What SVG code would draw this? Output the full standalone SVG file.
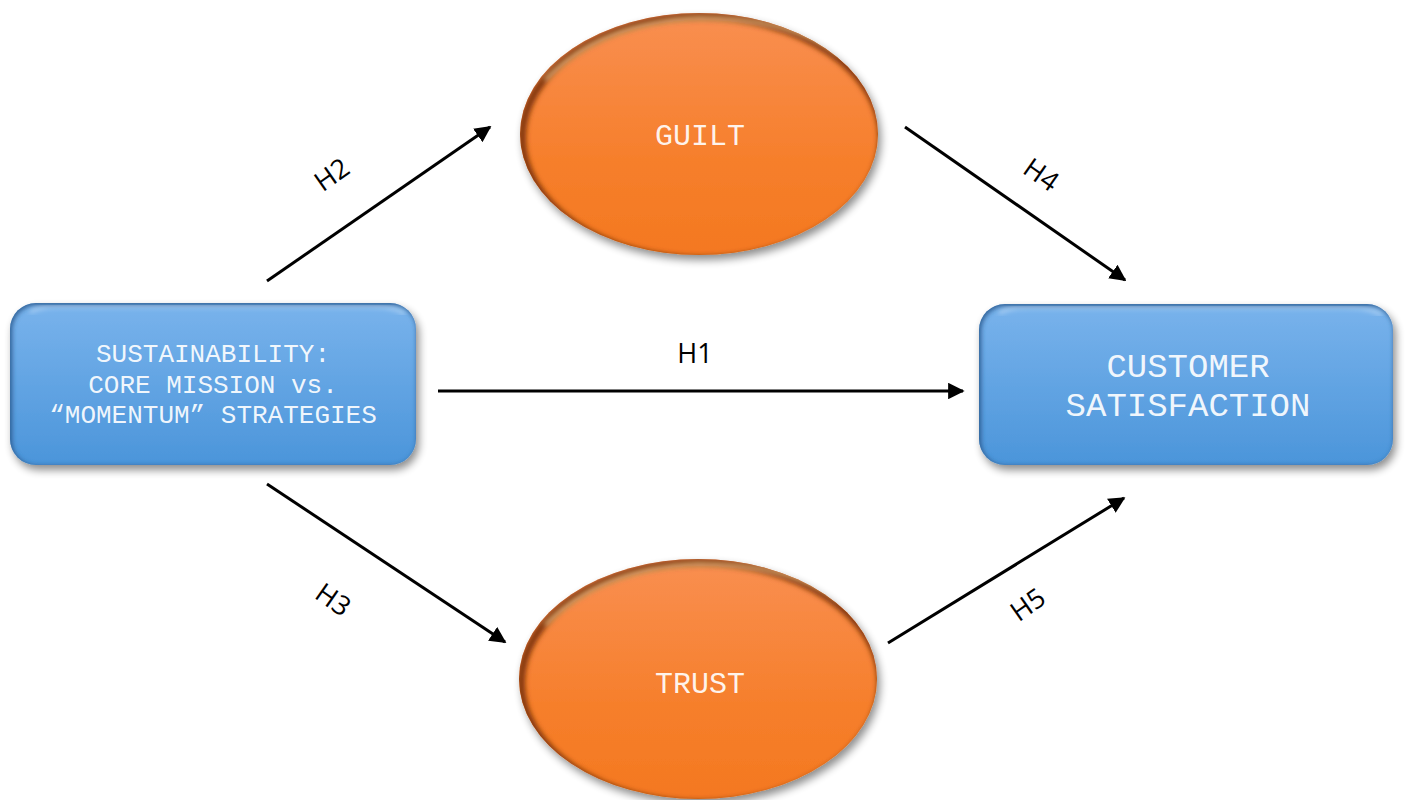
<svg xmlns="http://www.w3.org/2000/svg" width="1405" height="800" viewBox="0 0 1405 800">
  <defs>
    <linearGradient id="blueFill" x1="0" y1="0" x2="0" y2="1">
      <stop offset="0" stop-color="#79b3ec"/>
      <stop offset="1" stop-color="#4b95da"/>
    </linearGradient>
    <linearGradient id="orangeFill" x1="0" y1="0" x2="0" y2="1">
      <stop offset="0" stop-color="#f98f51"/>
      <stop offset="0.6" stop-color="#f67f2c"/>
      <stop offset="1" stop-color="#f47820"/>
    </linearGradient>
    <filter id="shadow" x="-10%" y="-10%" width="125%" height="130%">
      <feGaussianBlur in="SourceAlpha" stdDeviation="4"/>
      <feOffset dx="3" dy="5" result="b"/>
      <feComponentTransfer><feFuncA type="linear" slope="0.45"/></feComponentTransfer>
      <feMerge><feMergeNode/><feMergeNode in="SourceGraphic"/></feMerge>
    </filter>
    <filter id="soft" x="-10%" y="-10%" width="120%" height="120%">
      <feGaussianBlur stdDeviation="2.5"/>
    </filter>
    <clipPath id="clipLeft"><rect x="10" y="303" width="406" height="162" rx="26"/></clipPath>
    <clipPath id="clipRight"><rect x="979" y="304" width="414" height="161" rx="26"/></clipPath>
    <clipPath id="clipGuilt"><ellipse cx="699" cy="134" rx="179" ry="121"/></clipPath>
    <clipPath id="clipTrust"><ellipse cx="698" cy="679" rx="179" ry="120"/></clipPath>
    <marker id="arrow" viewBox="0 0 10 10" refX="9" refY="5" markerWidth="5.5" markerHeight="5.5" orient="auto" markerUnits="strokeWidth">
      <path d="M0,0 L10,5 L0,10 z" fill="#000"/>
    </marker>
    <style>
      .node-text { font-family: "Liberation Mono", "Courier New", monospace; fill: #ffffff; fill-opacity: 0.92; text-anchor: middle; }
      .edge { stroke: #000; stroke-width: 3; fill: none; marker-end: url(#arrow); }
      .edge-label { font-family: "Open Sans", "Liberation Sans", sans-serif; font-size: 27px; fill: #000; text-anchor: middle; }
      .bevel-blue { fill: none; stroke: #2a5a8f; stroke-width: 6; filter: url(#soft); }
      .bevel-orange { fill: none; stroke: #84390c; stroke-width: 8; filter: url(#soft); }
      .hl { fill: none; stroke: #ffffff; stroke-opacity: 0.55; stroke-width: 2.5; filter: url(#soft); }
      .hl-orange { fill: none; stroke: #ffe6a8; stroke-opacity: 0.8; stroke-width: 3; filter: url(#soft); }
    </style>
  </defs>

  <!-- connectors -->
  <g id="connectors">
    <line class="edge" x1="267" y1="281" x2="490" y2="127"/>
    <line class="edge" x1="905" y1="127" x2="1125" y2="280"/>
    <line class="edge" x1="438" y1="391" x2="963" y2="391"/>
    <line class="edge" x1="267" y1="484" x2="505" y2="642"/>
    <line class="edge" x1="888" y1="643" x2="1124" y2="498"/>
    <text class="edge-label" x="332" y="184" transform="rotate(-35 332 175)">H2</text>
    <text class="edge-label" x="1041" y="184" transform="rotate(35 1041 175)">H4</text>
    <text class="edge-label" x="695" y="363">H1</text>
    <text class="edge-label" x="333" y="609" transform="rotate(35 333 600)">H3</text>
    <text class="edge-label" x="1028" y="614" transform="rotate(-35 1028 605)">H5</text>
  </g>

  <!-- source construct -->
  <g id="node-sustainability">
    <rect x="10" y="303" width="406" height="162" rx="26" fill="url(#blueFill)" filter="url(#shadow)"/>
    <g clip-path="url(#clipLeft)">
      <rect class="bevel-blue" x="8" y="300" width="411" height="167" rx="28" transform="translate(1,2)"/>
      <path class="hl" d="M30,312 Q40,306 60,306 L370,306 Q395,306 405,314"/>
    </g>
    <text class="node-text" font-size="26" x="213" y="362">SUSTAINABILITY:</text>
    <text class="node-text" font-size="26" x="213" y="393">CORE MISSION vs.</text>
    <text class="node-text" font-size="26" x="213" y="423">“MOMENTUM” STRATEGIES</text>
  </g>

  <!-- outcome construct -->
  <g id="node-customer-satisfaction">
    <rect x="979" y="304" width="414" height="161" rx="26" fill="url(#blueFill)" filter="url(#shadow)"/>
    <g clip-path="url(#clipRight)">
      <rect class="bevel-blue" x="977" y="301" width="419" height="166" rx="28" transform="translate(1,2)"/>
      <path class="hl" d="M999,313 Q1009,307 1029,307 L1345,307 Q1370,307 1382,315"/>
    </g>
    <text class="node-text" font-size="34" x="1188" y="377">CUSTOMER</text>
    <text class="node-text" font-size="34" x="1188" y="416">SATISFACTION</text>
  </g>

  <!-- mediator: guilt -->
  <g id="node-guilt">
    <ellipse cx="699" cy="134" rx="179" ry="121" fill="url(#orangeFill)" filter="url(#shadow)"/>
    <g clip-path="url(#clipGuilt)">
      <ellipse class="bevel-orange" cx="702" cy="138" rx="180" ry="122"/>
      <path class="hl-orange" d="M545,80 Q600,22 699,18 Q790,18 840,55"/>
    </g>
    <text class="node-text" font-size="30" x="700" y="145">GUILT</text>
  </g>

  <!-- mediator: trust -->
  <g id="node-trust">
    <ellipse cx="698" cy="679" rx="179" ry="120" fill="url(#orangeFill)" filter="url(#shadow)"/>
    <g clip-path="url(#clipTrust)">
      <ellipse class="bevel-orange" cx="701" cy="683" rx="180" ry="121"/>
      <path class="hl-orange" d="M545,625 Q600,568 698,564 Q790,564 840,601"/>
    </g>
    <text class="node-text" font-size="30" x="700" y="693">TRUST</text>
  </g>
</svg>
